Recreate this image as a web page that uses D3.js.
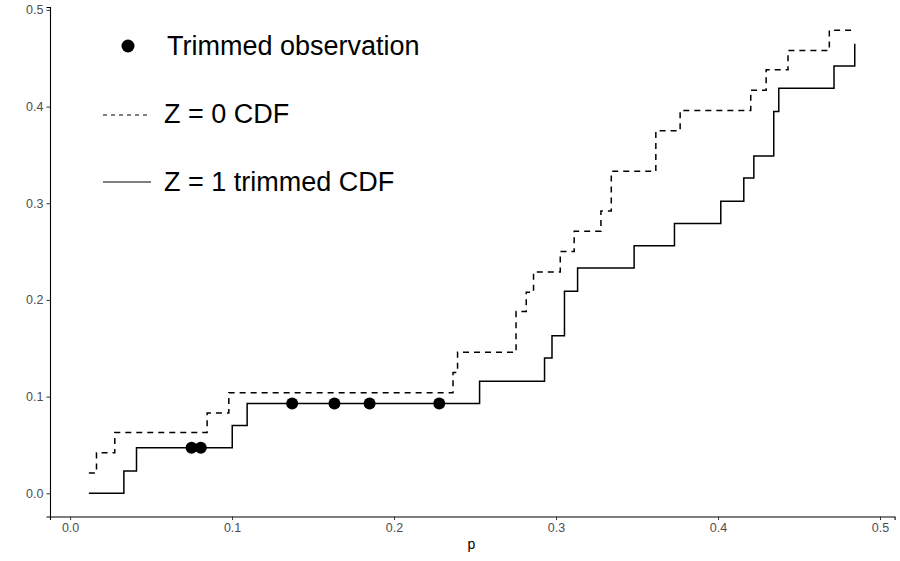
<!DOCTYPE html>
<html lang="en">
<head>
<meta charset="UTF-8">
<title>Trimmed CDF</title>
<script src="https://d3js.org/d3.v7.min.js"></script>
<style>
  body { margin: 0; background: #fff; }
  svg { font-family: "Liberation Sans", Arial, sans-serif; display: block; }
</style>
</head>
<body>
<div id="chart"></div>
<script>
// Z = 0 CDF (dashed step)
var z0P   = [0.0116, 0.0163, 0.0276, 0.0846, 0.0980, 0.2364, 0.2392, 0.2753, 0.2816, 0.2861, 0.3026,
             0.3112, 0.3277, 0.3341, 0.3616, 0.3766, 0.4202, 0.4297, 0.4432, 0.4687, 0.4832];
var z0Cdf = [0.021, 0.042, 0.063, 0.083, 0.104, 0.125, 0.146, 0.188, 0.208, 0.229, 0.250,
             0.271, 0.292, 0.333, 0.375, 0.396, 0.417, 0.438, 0.458, 0.479, 0.479];

// Z = 1 trimmed CDF (solid step)
var z1P   = [0.0116, 0.0332, 0.0410, 0.1001, 0.1093, 0.2528, 0.2929, 0.2975, 0.3052, 0.3133,
             0.3482, 0.3731, 0.4017, 0.4159, 0.4221, 0.4344, 0.4375, 0.4716, 0.4844];
var z1Cdf = [0.000, 0.023, 0.047, 0.070, 0.093, 0.116, 0.140, 0.163, 0.209, 0.233,
             0.256, 0.279, 0.302, 0.326, 0.349, 0.395, 0.419, 0.442, 0.465];

// trimmed observations
var trimP   = [0.0750, 0.0807, 0.1371, 0.1632, 0.1849, 0.2279];
var trimCdf = [0.047, 0.047, 0.093, 0.093, 0.093, 0.093];

var xTicks = [0.0, 0.1, 0.2, 0.3, 0.4, 0.5];
var yTicks = [0.0, 0.1, 0.2, 0.3, 0.4, 0.5];

var W = 900, H = 561;
var svg = d3.select("#chart").append("svg")
    .attr("width", W).attr("height", H);

var x = d3.scaleLinear().domain([-0.0124, 0.509]).range([50, 894.6]);
var y = d3.scaleLinear().domain([-0.024, 0.503]).range([516.5, 7]);

function styleAxis(g) {
    g.attr("font-size", 12.5).attr("font-family", "Liberation Sans, Arial, sans-serif");
    g.select(".domain").attr("stroke", "#000").attr("stroke-width", 1.1);
    g.selectAll(".tick line").attr("stroke", "#333");
    g.selectAll(".tick text").attr("fill", "#4d4d4d");
}

// axes
svg.append("g")
    .attr("transform", "translate(0," + 516.5 + ")")
    .call(d3.axisBottom(x).tickValues(xTicks).tickFormat(d3.format(".1f")).tickSizeOuter(0).tickSize(3.5).tickPadding(3))
    .call(styleAxis);

svg.append("g")
    .attr("transform", "translate(" + 50 + ",0)")
    .call(d3.axisLeft(y).tickValues(yTicks).tickFormat(d3.format(".1f")).tickSizeOuter(0).tickSize(3.5).tickPadding(3))
    .call(styleAxis);

svg.append("text")
    .attr("x", 471.5).attr("y", 549)
    .attr("text-anchor", "middle")
    .style("font-size", "14px")
    .text("p");

// step lines
var step = d3.line()
    .x(function(d) { return x(d[0]); })
    .y(function(d) { return y(d[1]); })
    .curve(d3.curveStepAfter);

svg.append("path")
    .datum(d3.zip(z0P, z0Cdf))
    .attr("d", step)
    .attr("fill", "none")
    .attr("stroke", "#000")
    .attr("stroke-width", 1.5)
    .attr("stroke-dasharray", "6,5");

svg.append("path")
    .datum(d3.zip(z1P, z1Cdf))
    .attr("d", step)
    .attr("fill", "none")
    .attr("stroke", "#000")
    .attr("stroke-width", 1.5);

svg.selectAll("circle.trim")
    .data(d3.zip(trimP, trimCdf))
    .enter().append("circle")
    .attr("class", "trim")
    .attr("cx", function(d) { return x(d[0]); })
    .attr("cy", function(d) { return y(d[1]); })
    .attr("r", 6)
    .attr("fill", "#000");

// legend
var lg = svg.append("g").style("font-size", "27px");
lg.append("circle").attr("cx", 128).attr("cy", 46).attr("r", 6.5).attr("fill", "#000");
lg.append("text").attr("x", 167).attr("y", 46).attr("dy", "0.35em").text("Trimmed observation");

lg.append("line").attr("x1", 103).attr("x2", 151).attr("y1", 115).attr("y2", 115)
    .attr("stroke", "#000").attr("stroke-width", 1.1).attr("stroke-dasharray", "4,4");
lg.append("text").attr("x", 164).attr("y", 114).attr("dy", "0.35em").text("Z = 0 CDF");

lg.append("line").attr("x1", 103).attr("x2", 151).attr("y1", 182).attr("y2", 182)
    .attr("stroke", "#000").attr("stroke-width", 1.1);
lg.append("text").attr("x", 164).attr("y", 182).attr("dy", "0.35em").text("Z = 1 trimmed CDF");
</script>
</body>
</html>
